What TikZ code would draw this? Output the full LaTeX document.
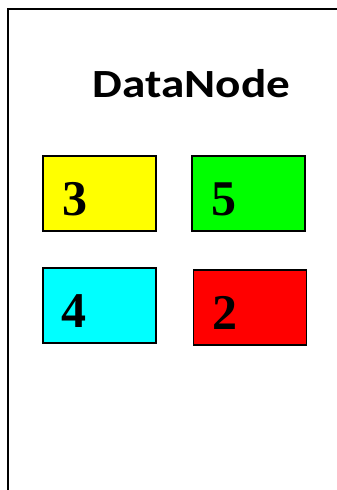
\documentclass[tikz,border=0pt]{standalone}
\usepackage{fontspec}
\usepackage{graphicx}
\setmainfont{Liberation Serif}
\newfontfamily\titlefont{Carlito}
\usetikzlibrary{positioning}
\definecolor{boxyellow}{RGB}{255,255,0}
\definecolor{boxgreen}{RGB}{0,255,0}
\definecolor{boxcyan}{RGB}{0,255,255}
\definecolor{boxred}{RGB}{255,0,0}
\tikzset{
  valbox/.style={draw=black, line width=1.5pt, minimum width=113pt, minimum height=75pt, inner sep=0pt},
  valnum/.style={font=\fontsize{50}{50}\selectfont\bfseries, anchor=base west, inner sep=0pt}
}

\begin{document}
\begin{tikzpicture}[x=1pt, y=-1pt]
\useasboundingbox (0,0) rectangle (337,490);
\clip (0,0) rectangle (337,490);
\draw [draw=black, line width=2pt] (8,9) rectangle (360,520);
\node (title) [anchor=base, font=\fontsize{40}{40}\selectfont\titlefont\bfseries, inner sep=0pt] at (191.5,97) {\scalebox{1.18}[1]{DataNode}};
\node (three) [valbox, fill=boxyellow] at (99.5,193.5) {};
\node (five) [valbox, fill=boxgreen] at (248.5,193.5) {};
\node (four) [valbox, fill=boxcyan] at (99.5,305.5) {};
\node (two) [valbox, fill=boxred] at (250,307.5) {};
\node (n3) [valnum] at ([xshift=20pt, yshift=16pt]three.south west) {3};
\node (n5) [valnum] at ([xshift=20pt, yshift=16pt]five.south west) {5};
\node (n4) [valnum] at ([xshift=19pt, yshift=16pt]four.south west) {4};
\node (n2) [valnum] at ([xshift=20pt, yshift=16pt]two.south west) {2};
\end{tikzpicture}
\end{document}
